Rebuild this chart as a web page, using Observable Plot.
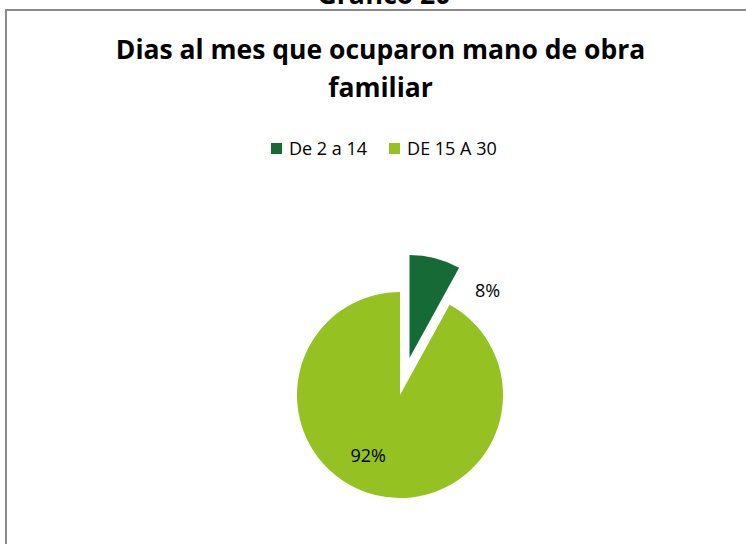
<!DOCTYPE html>
<html>
<head>
<meta charset="utf-8">
<script src="https://cdn.jsdelivr.net/npm/d3@7"></script>
<script src="https://cdn.jsdelivr.net/npm/@observablehq/plot@0.6"></script>
<style>
  html, body { margin: 0; padding: 0; background: #fff; }
  #wrap { position: relative; width: 746px; height: 544px; overflow: hidden; font-family: "Open Sans", sans-serif; color: #000; }
  #fig { position: absolute; left: 0; top: -19px; width: 768px; text-align: center; font: bold 26.5px/26.5px "Open Sans", sans-serif; white-space: nowrap; }
  #frame { position: absolute; left: 5px; top: 9px; width: 900px; height: 700px; border-top: 2px solid #8a8a8a; border-left: 2px solid #8a8a8a; }
  #title { position: absolute; left: 0; top: 30px; width: 761px; text-align: center; font: bold 26.5px/38px "Open Sans", sans-serif; white-space: nowrap; }
  #legend { position: absolute; left: 271px; top: 139px; display: flex; align-items: center; font: 18px/18px "Open Sans", sans-serif; white-space: nowrap; }
  #legend .item { display: flex; align-items: center; margin-right: 22px; }
  #legend .sw { width: 11px; height: 11px; margin-right: 7px; }
  #chart { position: absolute; left: 0; top: 170px; }
</style>
</head>
<body>
<div id="wrap">
  <div id="fig"></div>
  <div id="frame"></div>
  <div id="title"></div>
  <div id="legend"></div>
  <div id="chart"></div>
</div>
<script>
// ---- data ----
const figureLabel = "Gráfico 20";
const titleLines = ["Dias al mes que ocuparon mano de obra", "familiar"];
const categories = ["De 2 a 14", "DE 15 A 30"];
const shares = [8, 92];
const shareLabels = ["8%", "92%"];
const sliceColors = ["#166A36", "#95C123"];
const explodedSlices = [true, false];

// ---- layout constants (pixels / radians) ----
const W = 746, H = 374;
const radiusPx = 103;
const centerX = 400, centerY = 225;   // pie centre inside the SVG
const explodeFrac = 0.37;             // exploded offset, in radii
const insideLabelFrac = 0.67;
const insideLabelTurn = 13.5 * Math.PI / 180;
const outsideLabelTurn = 20 * Math.PI / 180;

document.getElementById("fig").textContent = figureLabel;
document.getElementById("title").innerHTML = titleLines.join("<br>");

const rows = categories.map((c, i) => ({
  category: c, share: shares[i], label: shareLabels[i], exploded: explodedSlices[i]
}));

const arcs = d3.pie().value(d => d.share).sort(null)(rows);

// label positions in data units (radius = 1, y upward)
const labelRows = arcs.map(a => {
  const mid = (a.startAngle + a.endAngle) / 2;
  if (a.data.exploded) {
    const bx = explodeFrac * Math.sin(mid), by = explodeFrac * Math.cos(mid);
    const ang = a.endAngle + outsideLabelTurn;
    return {label: a.data.label, x: bx + Math.sin(ang), y: by + Math.cos(ang)};
  }
  const ang = mid + insideLabelTurn;
  return {label: a.data.label, x: insideLabelFrac * Math.sin(ang), y: insideLabelFrac * Math.cos(ang)};
});

const xDomain = [-centerX / radiusPx, (W - centerX) / radiusPx];
const yDomain = [(centerY - H) / radiusPx, centerY / radiusPx];

function pieMark(index, scales, values, dimensions, context) {
  const sx = scales.x, sy = scales.y, sc = scales.color;
  const cx = sx(0), cy = sy(0);
  const R = sx(1) - sx(0);
  const arcGen = d3.arc().innerRadius(0).outerRadius(R);
  const g = d3.create("svg:g");
  for (const a of arcs) {
    const mid = (a.startAngle + a.endAngle) / 2;
    const off = a.data.exploded ? explodeFrac * R : 0;
    const tx = cx + off * Math.sin(mid), ty = cy - off * Math.cos(mid);
    g.append("path")
      .attr("transform", `translate(${tx},${ty})`)
      .attr("d", arcGen(a))
      .attr("fill", sc(a.data.category));
  }
  return g.node();
}

const chart = Plot.plot({
  width: W,
  height: H,
  margin: 0,
  x: {domain: xDomain, axis: null},
  y: {domain: yDomain, axis: null},
  color: {domain: categories, range: sliceColors},
  style: {fontFamily: "Open Sans, sans-serif", background: "transparent", overflow: "visible"},
  marks: [
    pieMark,
    Plot.text(labelRows, {x: "x", y: "y", text: "label", fill: "#000", fontSize: 18})
  ]
});
document.getElementById("chart").appendChild(chart);

// legend from the same colour scale
const colorScale = chart.scale("color");
const legend = document.getElementById("legend");
categories.forEach(c => {
  const item = document.createElement("div");
  item.className = "item";
  const sw = document.createElement("div");
  sw.className = "sw";
  sw.style.background = colorScale.apply(c);
  const tx = document.createElement("span");
  tx.textContent = c;
  item.appendChild(sw);
  item.appendChild(tx);
  legend.appendChild(item);
});
</script>
</body>
</html>
